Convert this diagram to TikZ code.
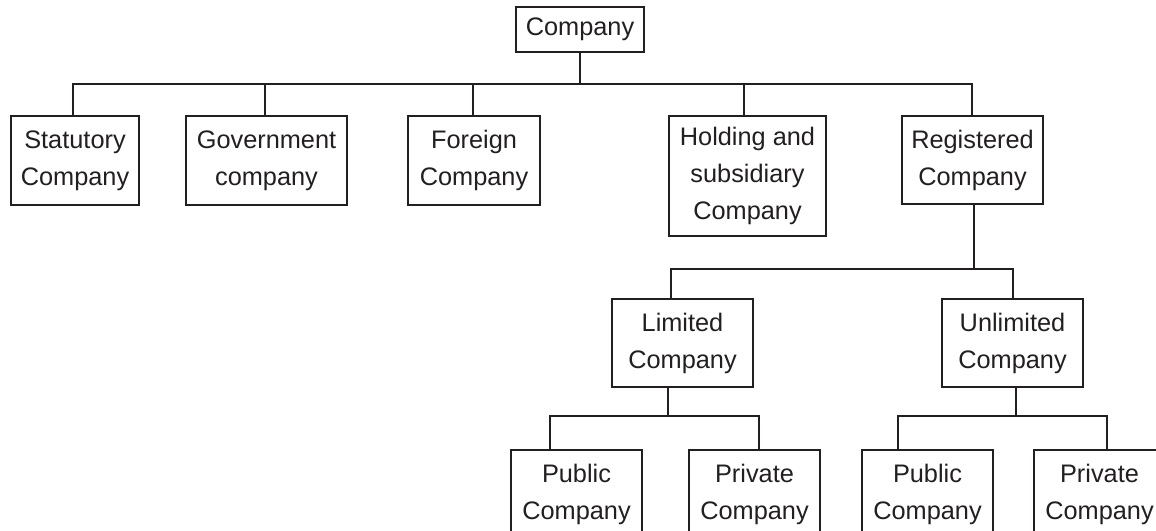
\documentclass[tikz,border=0pt]{standalone}
\usepackage{fontspec}
\setmainfont{Liberation Sans}
\definecolor{ink}{HTML}{231F20}
\begin{document}
\begin{tikzpicture}[x=0.75pt,y=-0.75pt,
  box/.style={draw=ink,line width=1.2pt,text=ink,align=center,inner sep=0pt,
    font=\fontsize{19}{27.75}\selectfont,minimum height=66pt},
  conn/.style={draw=ink,line width=1.2pt,line join=miter}]
\clip (0,0) rectangle (1156,531);
\fill[white] (0,0) rectangle (1156,531);
% nodes
\node[box,minimum width=96pt,minimum height=33.75pt] (company) at (580,29.5) {Company};
\node[box,minimum width=96pt,minimum height=66.75pt] (stat) at (75,160.5) {Statutory\\Company};
\node[box,minimum width=120.75pt,minimum height=66.75pt] (gov) at (266.5,160.5) {Government\\company};
\node[box,minimum width=99pt,minimum height=66.75pt] (foreign) at (474,160.5) {Foreign\\Company};
\node[box,minimum width=117.75pt,minimum height=90pt] (holding) at (747.5,176) {Holding and\\subsidiary\\Company};
\node[box,minimum width=105.75pt] (reg) at (972.5,160) {Registered\\Company};
\node[box,minimum width=105.75pt] (lim) at (682.5,343) {Limited\\Company};
\node[box,minimum width=105.75pt] (unlim) at (1012.5,343) {Unlimited\\Company};
\node[box,minimum width=98.25pt] (pub1) at (576.5,494) {Public\\Company};
\node[box,minimum width=98.25pt] (priv1) at (754.5,494) {Private\\Company};
\node[box,minimum width=98.25pt] (pub2) at (927.5,494) {Public\\Company};
\node[box,minimum width=98.25pt] (priv2) at (1099.5,494) {Private\\Company};
% level 1 connectors
\coordinate (b0) at (580,84);
\coordinate (bL) at (73,84);
\coordinate (bG) at (265,84);
\coordinate (bF) at (473,84);
\coordinate (bH) at (744,84);
\coordinate (bR) at (972,84);
\draw[conn] (company.south) -- (b0);
\draw[conn] (bL |- stat.north) -- (bL) -- (bR) -- (bR |- reg.north);
\draw[conn] (bG) -- (bG |- gov.north);
\draw[conn] (bF) -- (bF |- foreign.north);
\draw[conn] (bH) -- (bH |- holding.north);
% level 2 connectors
\coordinate (m2) at (974,269);
\coordinate (l2) at (671,269);
\coordinate (r2) at (1013,269);
\draw[conn] (reg.south -| m2) -- (m2);
\draw[conn] (l2 |- lim.north) -- (l2) -- (r2) -- (r2 |- unlim.north);
% level 3 connectors (limited)
\coordinate (m3) at (668,416);
\coordinate (l3) at (550,416);
\coordinate (r3) at (759,416);
\draw[conn] (lim.south -| m3) -- (m3);
\draw[conn] (l3 |- pub1.north) -- (l3) -- (r3) -- (r3 |- priv1.north);
% level 3 connectors (unlimited)
\coordinate (m4) at (1016,416);
\coordinate (l4) at (898,416);
\coordinate (r4) at (1107,416);
\draw[conn] (unlim.south -| m4) -- (m4);
\draw[conn] (l4 |- pub2.north) -- (l4) -- (r4) -- (r4 |- priv2.north);
\end{tikzpicture}
\end{document}
